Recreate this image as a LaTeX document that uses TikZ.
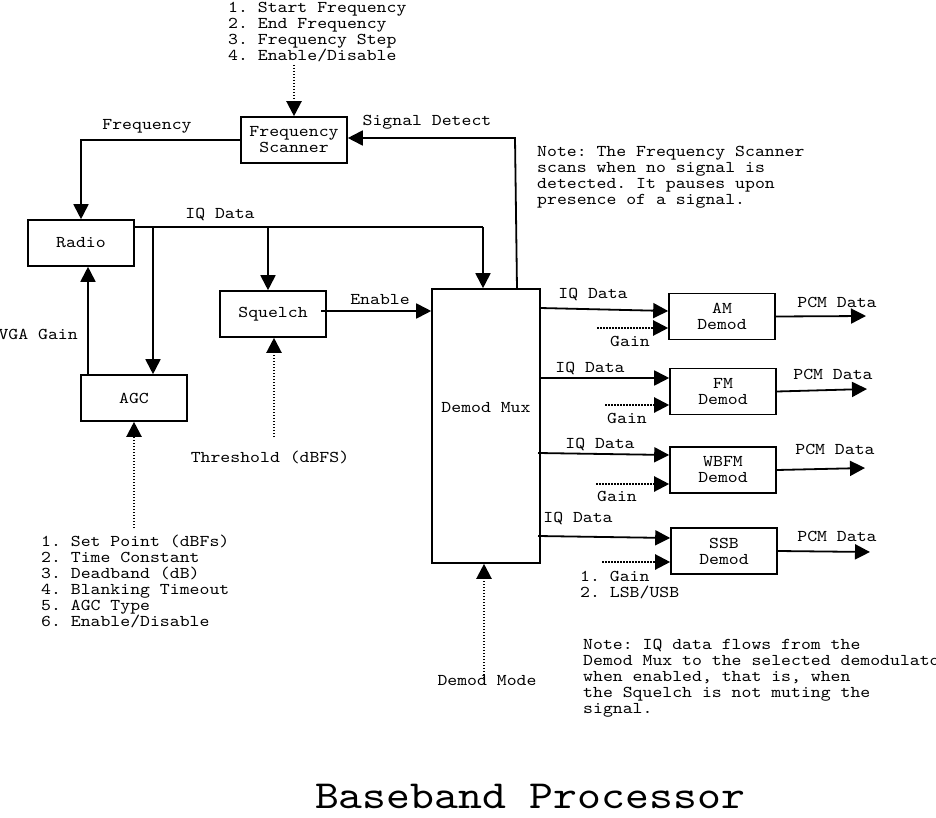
\documentclass[tikz,border=0pt]{standalone}
\usepackage{fontspec}
\setmonofont{lmmono10-regular.otf}[FakeStretch=1.143]
\usetikzlibrary{arrows.meta}
\begin{document}
\frenchspacing
\lineskiplimit=-100pt
\lineskip=0pt
\begin{tikzpicture}[x=1pt,y=-1pt,
  every node/.style={font=\fontsize{16.5}{16}\selectfont\ttfamily, inner sep=0pt},
  blk/.style={draw, line width=1.6pt, minimum width=106pt, minimum height=46pt, align=center},
  wire/.style={line width=1.8pt},
  arr/.style={wire, -{Triangle[length=15pt,width=15pt]}},
  dotarr/.style={line width=2.2pt, dash pattern=on 1.5pt off 1.5pt, -{Triangle[length=15pt,width=15pt]}},
  lbl/.style={anchor=base},
  lst/.style={anchor=north west, align=left}]
\fill[white] (0,0) rectangle (936,818);
\useasboundingbox (0,0) rectangle (936,818);

% blocks
\node[blk] (fs) at (294,140) {Frequency\\Scanner};
\node[blk] (radio) at (81,243) {Radio};
\node[blk] (squelch) at (273,314) {Squelch};
\node[blk] (agc) at (134,398) {AGC};
\node[blk, minimum width=108pt, minimum height=274pt] (mux) at (486,426) {\raisebox{14pt}[0pt][0pt]{Demod Mux}};
\node[blk] (am) at (722,316.5) {AM\\Demod};
\node[blk] (fm) at (723,391.5) {FM\\Demod};
\node[blk] (wbfm) at (723,470) {WBFM\\Demod};
\node[blk] (ssb) at (724,551) {SSB\\Demod};

% lists and notes
\node[lst] (toplist) at (228,1.9) {1. Start Frequency\\2. End Frequency\\3. Frequency Step\\4. Enable/Disable};
\node[lst] (agclist) at (41,534.6) {1. Set Point (dBFs)\\2. Time Constant\\3. Deadband (dB)\\4. Blanking Timeout\\5. AGC Type\\6. Enable/Disable};
\node[lst] (ssblist) at (580,570.9) {1. Gain\\2. LSB/USB};
\node[lst] (note1) at (537,145.9) {Note: The Frequency Scanner\\scans when no signal is\\detected. It pauses upon\\presence of a signal.};
\node[lst] (note2) at (583,638.9) {Note: IQ data flows from the\\Demod Mux to the selected demodulator\\when enabled, that is, when\\the Squelch is not muting the\\signal.};
\node[anchor=base, font=\fontsize{39.8}{40}\selectfont\ttfamily] (title) at (530,808) {Baseband Processor};

% labels
\node[lbl] (lfreq) at (147,130) {Frequency};
\node[lbl] (liq) at (220,219) {IQ Data};
\node[lbl] (lsd) at (427,126) {Signal Detect};
\node[lbl] (len) at (380,304) {Enable};
\node[anchor=base east] (lvga) at (78,339) {VGA Gain};
\node[lbl] (lth) at (270,462) {Threshold (dBFS)};
\node[lbl] (ldm) at (487,685) {Demod Mode};
\node[lbl] (liq1) at (593,298) {IQ Data};
\node[lbl] (liq2) at (590,372) {IQ Data};
\node[lbl] (liq3) at (600,448) {IQ Data};
\node[lbl] (liq4) at (578,522) {IQ Data};
\node[lbl] (lg1) at (630,346) {Gain};
\node[lbl] (lg2) at (627,423) {Gain};
\node[lbl] (lg3) at (617,501) {Gain};
\node[lbl] (lp1) at (837,307) {PCM Data};
\node[lbl] (lp2) at (833,379) {PCM Data};
\node[lbl] (lp3) at (835,454) {PCM Data};
\node[lbl] (lp4) at (837,541) {PCM Data};

% coordinates
\coordinate (c1) at (294,65);
\coordinate (sd) at (515,138);
\coordinate (sdb) at (517,289);
\coordinate (b0) at (134,227);
\coordinate (b1) at (483,227);
\coordinate (tA) at (153,227);
\coordinate (tS) at (268,227);
\coordinate (vg) at (88,375);
\coordinate (en) at (321,311);
\coordinate (th) at (274,437);
\coordinate (sp) at (134,528);
\coordinate (dm) at (484,678);
\coordinate (q1) at (540,308);
\coordinate (q2) at (540,378);
\coordinate (q3) at (538,453);
\coordinate (q4) at (538,536);
\coordinate (g1) at (597,328);
\coordinate (g2) at (605,405);
\coordinate (g3) at (596,484);
\coordinate (g4) at (602,562);
\coordinate (p1) at (866,316);
\coordinate (p2) at (867,389);
\coordinate (p3) at (865,468);
\coordinate (p4) at (870,552);

% connectors
\draw[dotarr] (c1) -- (fs.north);
\draw[arr] (fs.west) -| (radio.north);
\draw[arr] (sdb) -- (sd) -- (fs.east |- sd);
\draw[wire] (b0) -- (b1);
\draw[arr] (b1) -- (mux.north -| b1);
\draw[arr] (tS) -- (squelch.north -| tS);
\draw[arr] (tA) -- (agc.north -| tA);
\draw[arr] (vg) -- (radio.south -| vg);
\draw[arr] (en) -- (mux.west |- en);
\draw[dotarr] (th) -- (squelch.south -| th);
\draw[dotarr] (sp) -- (agc.south);
\draw[dotarr] (dm) -- (mux.south -| dm);

\draw[arr] (q1) -- ([yshift=5.5pt]am.west);
\draw[arr] (q2) -- ([yshift=13.5pt]fm.west);
\draw[arr] (q3) -- ([yshift=15pt]wbfm.west);
\draw[arr] (q4) -- ([yshift=13pt]ssb.west);
\draw[dotarr] (g1) -- (am.west |- g1);
\draw[dotarr] (g2) -- (fm.west |- g2);
\draw[dotarr] (g3) -- (wbfm.west |- g3);
\draw[dotarr] (g4) -- (ssb.west |- g4);
\draw[arr] (am.east) -- (p1);
\draw[arr] (fm.east) -- (p2);
\draw[arr] (wbfm.east) -- (p3);
\draw[arr] (ssb.east) -- (p4);
\end{tikzpicture}
\end{document}
